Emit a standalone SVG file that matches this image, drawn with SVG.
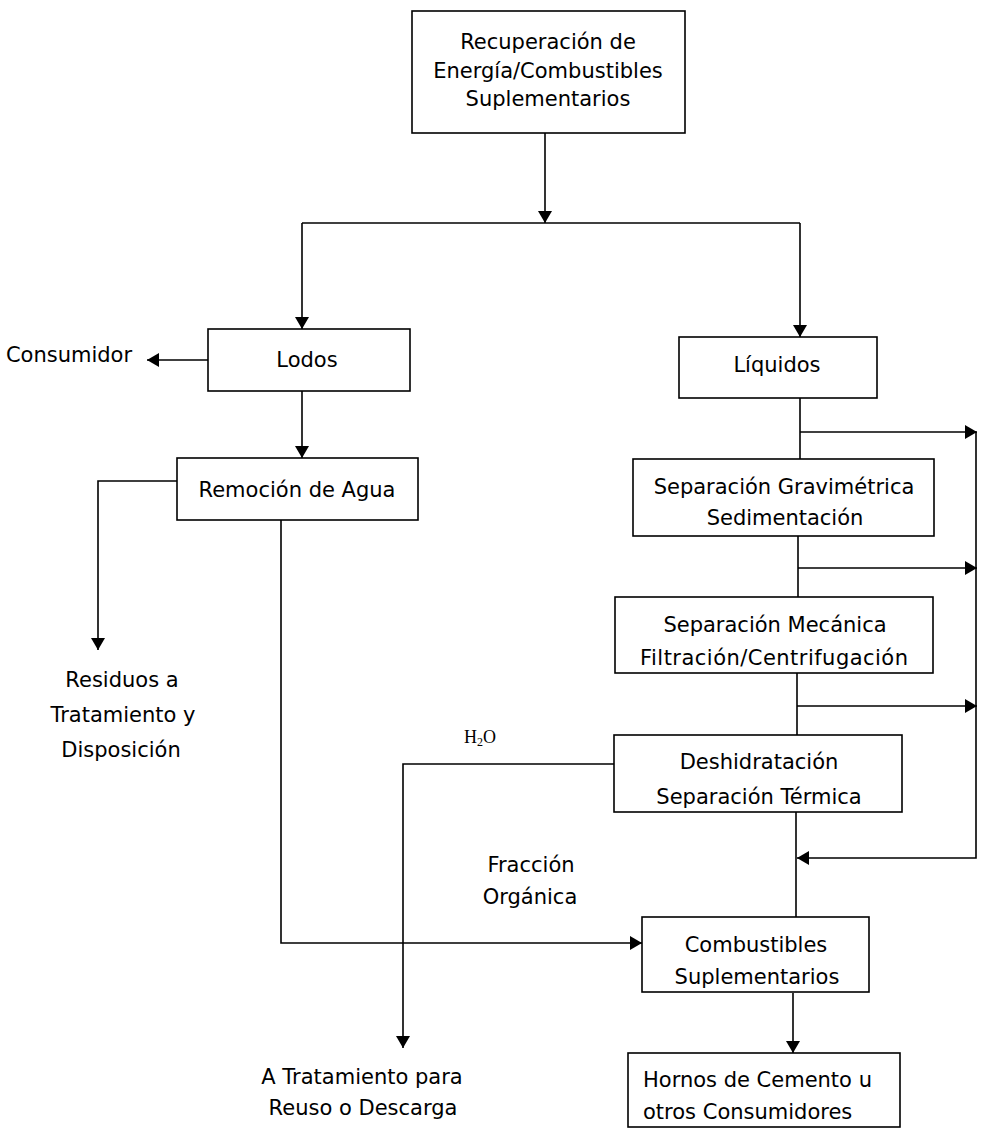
<svg xmlns="http://www.w3.org/2000/svg" width="981" height="1129" viewBox="0 0 981 1129">
<style>
.box{fill:#fff;stroke:#000;stroke-width:1.6}
.t{font-family:"DejaVu Sans","Liberation Sans",sans-serif;font-size:21px;fill:#000;text-anchor:middle}
.s{text-anchor:start}
.l{fill:none;stroke:#000;stroke-width:1.6}
.a{marker-end:url(#ah)}
</style>
<defs>
<marker id="ah" viewBox="0 0 12 14" refX="12" refY="7" markerWidth="12" markerHeight="14" orient="auto" markerUnits="userSpaceOnUse"><path d="M0,0 L12,7 L0,14 z" fill="#000"/></marker>
</defs>
<rect width="981" height="1129" fill="#fff"/>
<g id="connectors">
<path class="l a" d="M545,133 V223"/>
<path class="l" d="M302,223 H800"/>
<path class="l a" d="M302,223 V329"/>
<path class="l a" d="M800,223 V337"/>
<path class="l a" d="M208,360 H147"/>
<path class="l a" d="M302,391 V458"/>
<path class="l a" d="M177,481 H98 V650"/>
<path class="l a" d="M281,520 V943 H642"/>
<path class="l" d="M800,398 V459"/>
<path class="l a" d="M800,432 H977"/>
<path class="l" d="M798,536 V597"/>
<path class="l a" d="M798,568 H977"/>
<path class="l" d="M797,673 V735"/>
<path class="l a" d="M797,706 H977"/>
<path class="l a" d="M976,432 V858 H797"/>
<path class="l" d="M796,812 V917"/>
<path class="l a" d="M614,764 H403 V1048"/>
<path class="l a" d="M793,993 V1053"/>
</g>
<g id="n-top"><rect class="box" x="412" y="11" width="273" height="122"/>
<text class="t" x="548" y="49">Recuperación de</text>
<text class="t" x="548" y="78">Energía/Combustibles</text>
<text class="t" x="548" y="106">Suplementarios</text></g>
<g id="n-lodos"><rect class="box" x="208" y="329" width="202" height="62"/><text class="t" x="307" y="367">Lodos</text></g>
<g id="n-consumidor"><text class="t" x="69" y="362">Consumidor</text></g>
<g id="n-liquidos"><rect class="box" x="679" y="337" width="198" height="61"/><text class="t" x="777" y="372">Líquidos</text></g>
<g id="n-remocion"><rect class="box" x="177" y="458" width="241" height="62"/><text class="t" x="297" y="497">Remoción de Agua</text></g>
<g id="n-residuos"><text class="t" x="122" y="687">Residuos a</text><text class="t" x="123" y="722">Tratamiento y</text><text class="t" x="121" y="757">Disposición</text></g>
<g id="n-grav"><rect class="box" x="633" y="459" width="301" height="77"/><text class="t" x="784" y="494">Separación Gravimétrica</text><text class="t" x="785" y="525">Sedimentación</text></g>
<g id="n-mec"><rect class="box" x="615" y="597" width="318" height="76"/><text class="t" x="775" y="632">Separación Mecánica</text><text class="t" x="774" y="665" textLength="268">Filtración/Centrifugación</text></g>
<g id="n-h2o"><text x="480" y="743" style="font-family:'Liberation Serif',serif;font-size:18px;text-anchor:middle">H<tspan font-size="12" dy="3">2</tspan><tspan dy="-3">O</tspan></text></g>
<g id="n-desh"><rect class="box" x="614" y="735" width="288" height="77"/><text class="t" x="759" y="769">Deshidratación</text><text class="t" x="759" y="804">Separación Térmica</text></g>
<g id="n-fraccion"><text class="t" x="531" y="872">Fracción</text><text class="t" x="530" y="904">Orgánica</text></g>
<g id="n-comb"><rect class="box" x="642" y="917" width="227" height="75"/><text class="t" x="756" y="952">Combustibles</text><text class="t" x="757" y="984">Suplementarios</text></g>
<g id="n-hornos"><rect class="box" x="628" y="1053" width="272" height="74"/><text class="t s" x="643" y="1087">Hornos de Cemento u</text><text class="t s" x="643" y="1119">otros Consumidores</text></g>
<g id="n-tratamiento"><text class="t" x="362" y="1084">A Tratamiento para</text><text class="t" x="363" y="1115">Reuso o Descarga</text></g>
</svg>
